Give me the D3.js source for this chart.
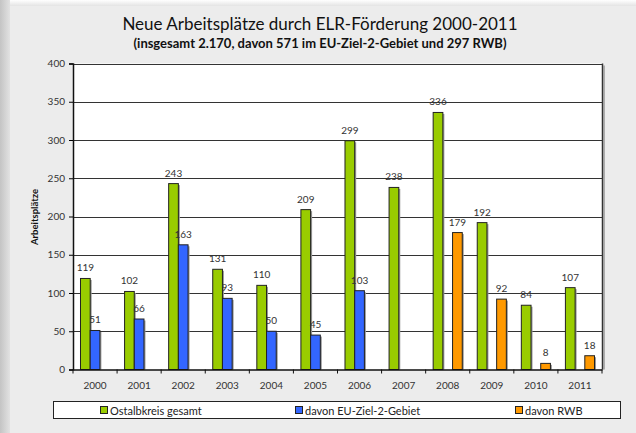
<!DOCTYPE html>
<html>
<head>
  <meta charset="utf-8">
  <script src="https://d3js.org/d3.v7.min.js"></script>
  <style>
    body { margin: 0; background: #ececec; }
    svg text { font-family: Lato, "DejaVu Sans", sans-serif; }
    .grid line { stroke: #333; stroke-width: 1px; }
    .tick text { fill: #333; font-size: 10px; }
    .label { fill: #333; font-size: 10px; }
  </style>
</head>
<body>
<svg width="636" height="433"></svg>
<script>
  const years = ["2000","2001","2002","2003","2004","2005","2006","2007","2008","2009","2010","2011"];
  const gesamt = [119, 102, 243, 131, 110, 209, 299, 238, 336, 192, 84, 107];
  const ziel2 = [51, 66, 163, 93, 50, 45, 103, null, null, null, null, null];
  const rwb = [null, null, null, null, null, null, null, null, 179, 92, 8, 18];
  const seriesNames = ["Ostalbkreis gesamt", "davon EU-Ziel-2-Gebiet", "davon RWB"];
  const colors = ["#99cc00", "#3366ff", "#ff9900"];
  const yTicks = [0, 50, 100, 150, 200, 250, 300, 350, 400];

  const series = [gesamt, ziel2, rwb];
  const svg = d3.select("svg");

  // Hintergrund mit Schatten
  const defs = svg.append("defs");
  const lg = defs.append("linearGradient").attr("id", "leftShadow");
  lg.append("stop").attr("offset", "0%").attr("stop-color", "#c4c4c4");
  lg.append("stop").attr("offset", "100%").attr("stop-color", "#e2e2e2");
  const tg = defs.append("linearGradient").attr("id", "topShadow")
    .attr("x1", 0).attr("x2", 0).attr("y1", 0).attr("y2", 1);
  tg.append("stop").attr("offset", "0%").attr("stop-color", "#ffffff");
  tg.append("stop").attr("offset", "100%").attr("stop-color", "#e4e4e4");
  svg.append("rect").attr("width", 636).attr("height", 433).attr("fill", "#ececec");
  svg.append("rect").attr("width", 636).attr("height", 6).attr("fill", "url(#topShadow)");
  svg.append("rect").attr("width", 10).attr("height", 433).attr("fill", "url(#leftShadow)");

  const margin = {left: 73, right: 34, top: 63.5, bottom: 63.5};
  const W = 636, H = 433;
  const x = d3.scaleBand().domain(years).range([margin.left, W - margin.right]);
  const y = d3.scaleLinear().domain([0, 400]).range([H - margin.bottom, margin.top]);

  // Titel
  svg.append("text").attr("x", 320).attr("y", 30).attr("text-anchor", "middle")
    .attr("font-size", 17).attr("fill", "#111").text("Neue Arbeitsplätze durch ELR-Förderung 2000-2011");
  svg.append("text").attr("x", 320).attr("y", 48).attr("text-anchor", "middle")
    .attr("font-size", 13).attr("font-weight", "bold").attr("fill", "#111")
    .text("(insgesamt 2.170, davon 571 im EU-Ziel-2-Gebiet und 297 RWB)");

  // Plotbereich
  svg.append("rect").attr("x", margin.left).attr("y", margin.top)
    .attr("width", x.range()[1] - margin.left).attr("height", y(0) - margin.top)
    .attr("fill", "#fff");

  svg.append("g").attr("class", "grid")
    .selectAll("line").data(yTicks.filter(d => d > 0)).join("line")
    .attr("x1", margin.left).attr("x2", x.range()[1])
    .attr("y1", d => Math.round(y(d)) + 0.5).attr("y2", d => Math.round(y(d)) + 0.5);

  svg.append("line").attr("x1", x.range()[1] + 0.5).attr("x2", x.range()[1] + 0.5)
    .attr("y1", margin.top).attr("y2", y(0)).attr("stroke", "#333").attr("stroke-width", 1.5);
  svg.append("line").attr("x1", x.range()[1] + 2).attr("x2", x.range()[1] + 2)
    .attr("y1", margin.top + 2).attr("y2", y(0)).attr("stroke", "#999").attr("stroke-width", 1.5);

  // Balken
  const bw = 9.7;
  const groupOff = (x.bandwidth() - 3 * bw) / 2;
  series.forEach((vals, si) => {
    const data = years.map((yr, i) => ({yr, v: vals[i]})).filter(d => d.v != null);
    const g = svg.append("g");
    g.selectAll("rect.shadow").data(data).join("rect")
      .attr("x", d => x(d.yr) + groupOff + si * bw + 1.5)
      .attr("y", d => y(d.v) + 1.5)
      .attr("width", bw).attr("height", d => y(0) - y(d.v) - 1.5)
      .attr("fill", "#999");
    g.selectAll("rect.bar").data(data).join("rect")
      .attr("x", d => x(d.yr) + groupOff + si * bw)
      .attr("y", d => y(d.v))
      .attr("width", bw).attr("height", d => y(0) - y(d.v))
      .attr("fill", colors[si]).attr("stroke", "#222").attr("stroke-width", 1);
    g.selectAll("text").data(data).join("text").attr("class", "label")
      .attr("x", d => x(d.yr) + groupOff + si * bw + bw / 2)
      .attr("y", d => y(d.v) - 7)
      .attr("text-anchor", "middle")
      .text(d => d.v);
  });

  // Achsen
  svg.append("g").attr("transform", `translate(${margin.left},0)`)
    .call(d3.axisLeft(y).tickValues(yTicks).tickSize(4).tickPadding(4))
    .call(g => g.select(".domain").attr("stroke", "#111").attr("stroke-width", 1.5));

  const xAxis = svg.append("g").attr("transform", `translate(0,${y(0)})`)
    .call(d3.axisBottom(x).tickSize(0).tickPadding(12))
    .call(g => g.select(".domain").attr("stroke", "#111").attr("stroke-width", 1.5));
  xAxis.selectAll(".sep").data(d3.range(years.length + 1)).join("line")
    .attr("x1", i => margin.left + i * x.step()).attr("x2", i => margin.left + i * x.step())
    .attr("y1", 0).attr("y2", 4).attr("stroke", "#111");

  svg.append("text")
    .attr("transform", "translate(38,217) rotate(-90)")
    .attr("text-anchor", "middle").attr("font-size", 9.5).attr("font-weight", "bold")
    .attr("fill", "#111").text("Arbeitsplätze");

  // Legende
  const leg = svg.append("g");
  leg.append("rect").attr("x", 53.5).attr("y", 401.5).attr("width", 567).attr("height", 17)
    .attr("fill", "#fff").attr("stroke", "#222");
  const legX = [100, 295, 515];
  seriesNames.forEach((n, i) => {
    leg.append("rect").attr("x", legX[i] + 0.5).attr("y", 406.5).attr("width", 7).attr("height", 7)
      .attr("fill", colors[i]).attr("stroke", "#222");
    leg.append("text").attr("x", legX[i] + 10).attr("y", 414.5).attr("font-size", 11)
      .attr("fill", "#222").text(n);
  });
</script>
</body>
</html>
